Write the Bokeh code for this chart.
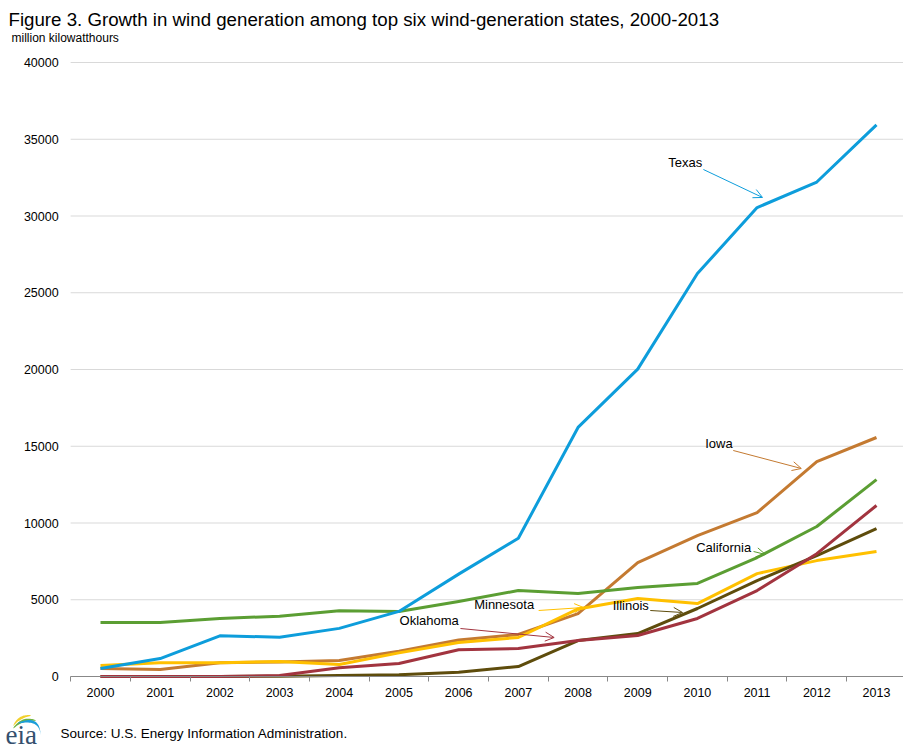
import numpy as np
from bokeh.plotting import figure
from bokeh.models import (Range1d, FixedTicker, Arrow, OpenHead, BasicTickFormatter, Label,
                          PolyAnnotation, LinearAxis)
from bokeh.embed import file_html
from bokeh.resources import INLINE
from bokeh.core.properties import value

FONT = "Liberation Sans"

years = list(range(2000, 2014))
texas = [520, 1170, 2650, 2560, 3135, 4240, 6670, 9006, 16225, 20026, 26251, 30548, 32214, 35937]
iowa = [520, 460, 900, 950, 1040, 1650, 2380, 2740, 4100, 7420, 9180, 10680, 14000, 15570]
california = [3520, 3520, 3780, 3930, 4280, 4230, 4890, 5600, 5400, 5800, 6060, 7750, 9770, 12830]
oklahoma = [0, 0, 0, 60, 570, 850, 1740, 1820, 2350, 2670, 3780, 5600, 8000, 11140]
illinois = [0, 0, 0, 20, 60, 110, 270, 650, 2340, 2800, 4430, 6250, 7880, 9640]
minnesota = [720, 900, 900, 980, 780, 1540, 2220, 2540, 4400, 5080, 4750, 6700, 7550, 8140]

series = [
    ("Iowa", iowa, "#C47A31"),
    ("Minnesota", minnesota, "#FFC000"),
    ("Illinois", illinois, "#5E4C0C"),
    ("Oklahoma", oklahoma, "#A2343F"),
    ("California", california, "#5B9E33"),
    ("Texas", texas, "#0D9DDB"),
]
colors = {n: c for n, _, c in series}

# annotation labels (text left x, middle y) and arrows (start -> end), in data units
ann_names = ["Texas", "Iowa", "California", "Minnesota", "Illinois", "Oklahoma"]
ann_x = [2009.51, 2010.13, 2009.98, 2006.26, 2008.58, 2005.01]
ann_y = [33487, 15180, 8404, 4691, 4626, 3648]
arr_x0 = [2010.10, 2010.60, 2010.94, 2007.34, 2009.21, 2006.03]
arr_y0 = [33030, 14724, 8144, 4300, 4300, 3127]
arr_x1 = [2011.09, 2011.74, 2011.14, 2008.09, 2009.75, 2007.60]
arr_y1 = [31207, 13551, 7948, 4495, 4170, 2541]

y_ticks = list(range(0, 40001, 5000))

title = "Figure 3. Growth in wind generation among top six wind-generation states, 2000-2013"
subtitle = "million kilowatthours"
source = "Source:  U.S. Energy Information  Administration."

# ---- canvas geometry (the plot frame fills the whole canvas; axes are placed inside it) ----
W, H = 903, 754
PX_2000, PX_2013 = 100, 876          # pixel columns of the first and last year
PY_0, PY_40000 = 676, 62             # pixel rows of 0 and 40000
kx = (PX_2013 - PX_2000) / 13.0
ky = (PY_0 - PY_40000) / 40000.0
x0 = 2000 - PX_2000 / kx
x1 = x0 + W / kx
y1 = 40000 + PY_40000 / ky
y0 = y1 - H / ky
xa_start = 1999.5

p = figure(width=W, height=H, x_range=Range1d(x0, x1), y_range=Range1d(y0, y1),
           toolbar_location=None, output_backend="svg",
           x_axis_location=None, y_axis_location=None, min_border=0)
p.min_border_left = p.min_border_right = p.min_border_top = p.min_border_bottom = 0
p.outline_line_color = None
p.grid.visible = False

# horizontal gridlines (from tick values), starting at the plot area's left edge
p.segment(x0=[xa_start] * len(y_ticks[1:]), y0=y_ticks[1:], x1=[x1] * len(y_ticks[1:]),
          y1=y_ticks[1:], line_color="#D9D9D9", line_width=1)

xaxis = LinearAxis(fixed_location=0, bounds=(xa_start, x1),
                   ticker=FixedTicker(ticks=years, minor_ticks=[y - 0.5 for y in years] + [2013.5]))
xaxis.major_tick_out = 0
xaxis.major_tick_in = 0
xaxis.minor_tick_out = 5
xaxis.minor_tick_in = 0
xaxis.minor_tick_line_color = "#888888"
xaxis.axis_line_color = "#888888"
xaxis.major_label_standoff = 6
xaxis.major_label_text_font = FONT
xaxis.major_label_text_font_size = "12.5px"
xaxis.major_label_text_color = "#000000"
p.add_layout(xaxis, "below")

yaxis = LinearAxis(fixed_location=xa_start, ticker=FixedTicker(ticks=y_ticks),
                   formatter=BasicTickFormatter(use_scientific=False))
yaxis.axis_line_color = None
yaxis.major_tick_line_color = None
yaxis.major_tick_out = 0
yaxis.major_tick_in = 0
yaxis.minor_tick_line_color = None
yaxis.major_label_standoff = 12
yaxis.major_label_text_font = FONT
yaxis.major_label_text_font_size = "12.5px"
yaxis.major_label_text_color = "#000000"
p.add_layout(yaxis, "left")

for name, vals, col in series:
    p.line(years, vals, line_color=col, line_width=3, line_join="round")

p.text(x=ann_x, y=ann_y, text=ann_names, text_font=value(FONT), text_font_size="13px",
       text_baseline="middle", text_align="left", text_color="#000000")
for i, n in enumerate(ann_names):
    c = colors[n]
    p.add_layout(Arrow(end=OpenHead(size=9, line_color=c, line_width=1),
                       x_start=arr_x0[i], y_start=arr_y0[i], x_end=arr_x1[i], y_end=arr_y1[i],
                       line_color=c, line_width=1))

# ---- texts around the chart (screen units: from the canvas's bottom-left) ----
def sy(py):
    return H - py

p.add_layout(Label(x=8, y=sy(19), x_units="screen", y_units="screen", text=title,
                   text_font=FONT, text_font_size="18.7px", text_baseline="middle",
                   text_color="#000000"))
p.add_layout(Label(x=11, y=sy(37), x_units="screen", y_units="screen", text=subtitle,
                   text_font=FONT, text_font_size="12px", text_baseline="middle",
                   text_color="#000000"))
p.add_layout(Label(x=60, y=sy(733), x_units="screen", y_units="screen", text=source,
                   text_font=FONT, text_font_size="13.5px", text_baseline="middle",
                   text_color="#000000"))

# eia logo: three swooshes + text
def swoosh(p0, p1, p2, thick):
    t = np.linspace(0, 1, 24)
    bx = (1 - t) ** 2 * p0[0] + 2 * (1 - t) * t * p1[0] + t ** 2 * p2[0]
    by = (1 - t) ** 2 * p0[1] + 2 * (1 - t) * t * p1[1] + t ** 2 * p2[1]
    w = thick * np.sin(np.pi * (0.1 + 0.85 * t)) + 0.5
    xs = list(bx) + list(bx[::-1])
    ys = list(by - w / 2) + list((by + w / 2)[::-1])
    return [float(v) for v in xs], [float(sy(v)) for v in ys]

for (p0, p1, p2, c) in [((13, 725), (18, 716), (30, 715), "#F2D02B"),
                        ((13, 727.5), (22, 717), (35, 720), "#6DB33F"),
                        ((18, 722.5), (39, 716), (40, 734), "#1B9ED9")]:
    xs, ys = swoosh(p0, p1, p2, 2.4)
    p.add_layout(PolyAnnotation(xs=xs, ys=ys, xs_units="screen", ys_units="screen",
                                fill_color=c, fill_alpha=1, line_color=None))

p.add_layout(Label(x=5, y=sy(734), x_units="screen", y_units="screen", text="eia",
                   text_font="Liberation Serif", text_font_size="27px", text_baseline="middle",
                   text_color="#34506E"))

open("out.html", "w").write(file_html(p, INLINE))
